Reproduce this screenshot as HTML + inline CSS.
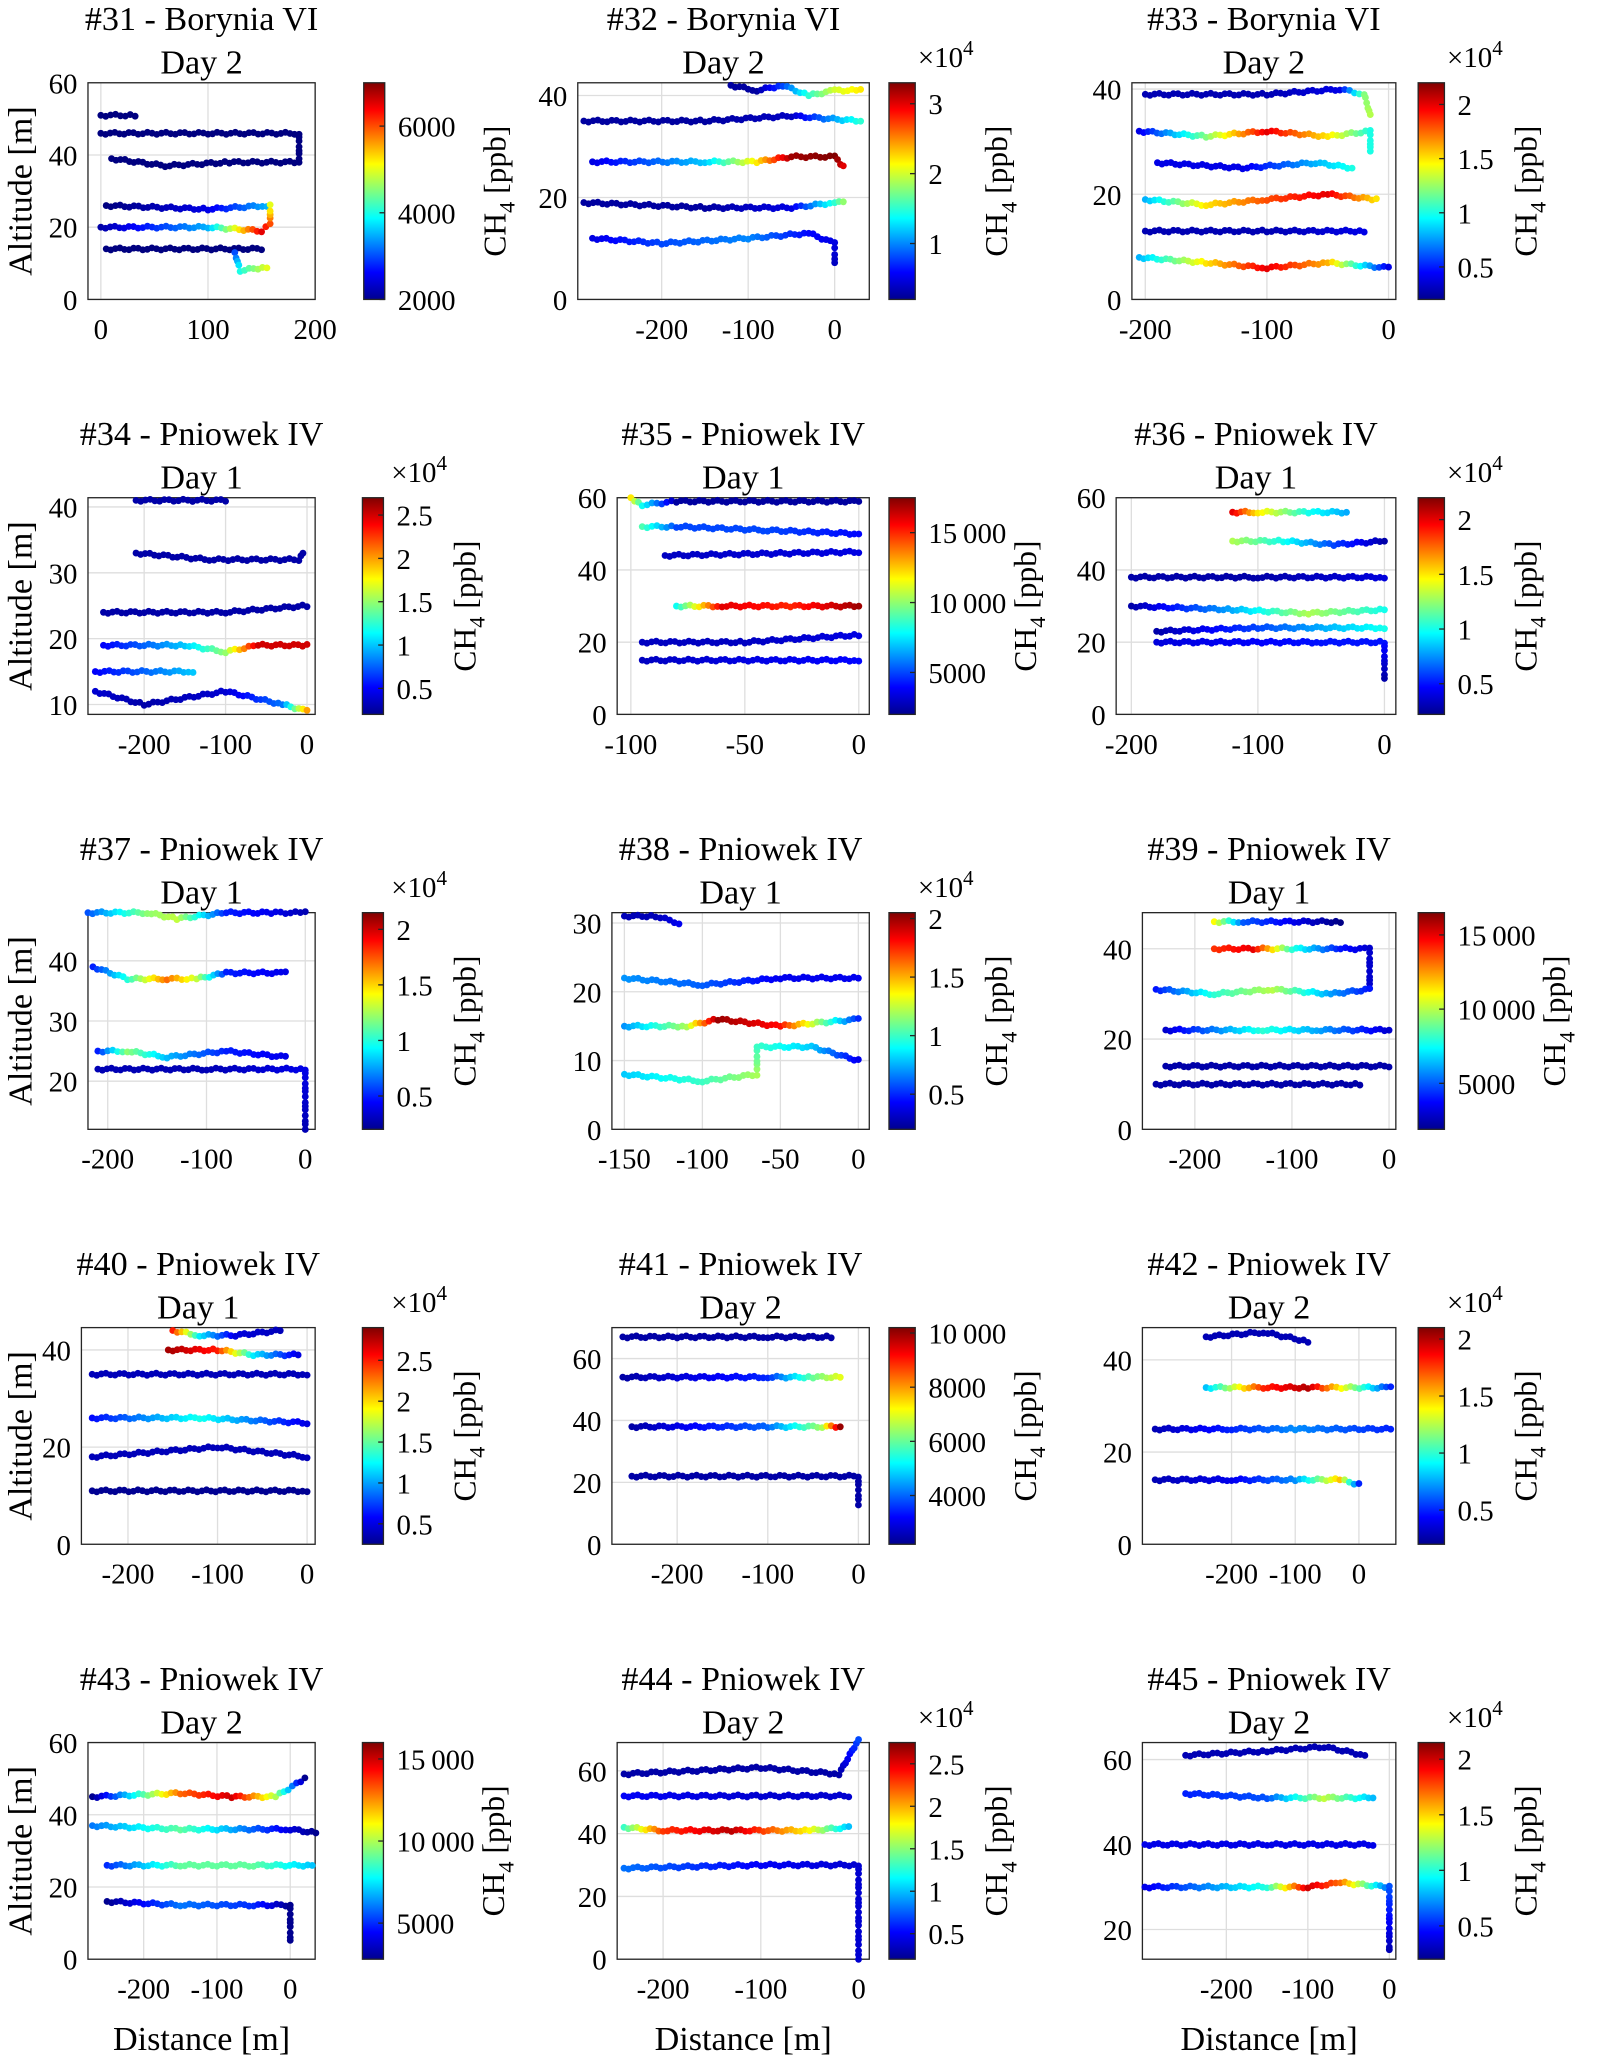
<!DOCTYPE html>
<html><head><meta charset="utf-8"><style>
html,body{margin:0;padding:0;background:#fff;}
svg{display:block;font-family:"Liberation Serif",serif;}
</style></head><body>
<svg id="fig" width="1602" height="2063" viewBox="0 0 1220 1571" xmlns="http://www.w3.org/2000/svg">
<defs>
<linearGradient id="jet" x1="0" y1="1" x2="0" y2="0">
<stop offset="0" stop-color="#00008f"/><stop offset="0.125" stop-color="#0000ff"/><stop offset="0.375" stop-color="#00ffff"/><stop offset="0.625" stop-color="#ffff00"/><stop offset="0.875" stop-color="#ff0000"/><stop offset="1" stop-color="#800000"/>
</linearGradient>
</defs>
</svg>
<script>
// ---- data: per-panel tracks [distance m, altitude m, CH4 value] ----
const titles = ["#31 - Borynia VI","#32 - Borynia VI","#33 - Borynia VI","#34 - Pniowek IV","#35 - Pniowek IV","#36 - Pniowek IV","#37 - Pniowek IV","#38 - Pniowek IV","#39 - Pniowek IV","#40 - Pniowek IV","#41 - Pniowek IV","#42 - Pniowek IV","#43 - Pniowek IV","#44 - Pniowek IV","#45 - Pniowek IV"];
const days = ["Day 2","Day 2","Day 2","Day 1","Day 1","Day 1","Day 1","Day 1","Day 1","Day 1","Day 2","Day 2","Day 2","Day 2","Day 2"];
const xTicks = [[0,100,200],[-200,-100,0],[-200,-100,0],[-200,-100,0],[-100,-50,0],[-200,-100,0],[-200,-100,0],[-150,-100,-50,0],[-200,-100,0],[-200,-100,0],[-200,-100,0],[-200,-100,0],[-200,-100,0],[-200,-100,0],[-200,-100,0]];
const yTicks = [[0,20,40,60],[0,20,40],[0,20,40],[10,20,30,40],[0,20,40,60],[0,20,40,60],[20,30,40],[0,10,20,30],[0,20,40],[0,20,40],[0,20,40,60],[0,20,40],[0,20,40,60],[0,20,40,60],[20,40,60]];
const xLims = [[-12,200],[-297,40],[-211,6],[-269,10],[-106,4.6],[-212,9],[-220,10],[-158,7],[-254,7],[-252,9],[-272,12],[-340,58],[-276,34],[-247,11],[-303,8]];
const yLims = [[0,60],[0,42.5],[0,41.2],[8.5,41.4],[0,60],[0,60],[12,48],[0,31.5],[0,48],[0,44.6],[0,70],[0,47],[0,60],[0,69],[13,64]];
const cLims = [[2000,7000],[0.2,3.3],[0.2,2.2],[0.2,2.7],[2000,17500],[0.22,2.2],[0.2,2.15],[0.2,2.05],[1900,16500],[0.25,2.9],[2200,10200],[0.2,2.1],[2800,16000],[0.2,2.75],[0.2,2.15]];
const cTicks = [[2000,4000,6000],[1,2,3],[0.5,1,1.5,2],[0.5,1,1.5,2,2.5],[5000,10000,15000],[0.5,1,1.5,2],[0.5,1,1.5,2],[0.5,1,1.5,2],[5000,10000,15000],[0.5,1,1.5,2,2.5],[4000,6000,8000,10000],[0.5,1,1.5,2],[5000,10000,15000],[0.5,1,1.5,2,2.5],[0.5,1,1.5,2]];
const cScaled = [false,true,true,true,false,true,true,true,false,true,false,true,false,true,true];
const tracks = [
[[[0,51,2000],[32,51,2000]],[[0,46,2000],[100,46,2000],[185,46,2000],[185,39,2000]],[[10,39,2000],[60,37,2000],[120,38,2000],[185,38,2000]],[[5,26,2000],[100,25,2500],[155,26,3500]],[[0,20,2200],[100,20,3500],[150,19,6500],[158,21,6000],[158,26,5000]],[[5,14,2000],[150,14,2000]],[[125,13,3000],[130,8,4000],[155,9,5000]]],
[[[-120,42,0.3],[-90,41,0.3],[-60,42,0.8],[-30,40,1.5],[0,41,2.0],[30,41,2.2]],[[-290,35,0.3],[-150,35,0.3],[-50,36,0.4],[30,35,1.5]],[[-280,27,0.5],[-150,27,1.2],[-90,27,2.2],[-50,28,3.2],[0,28,3.3],[10,26,3.0]],[[-290,19,0.3],[-150,18,0.3],[-50,18,0.5],[0,19,1.5],[10,19,1.8]],[[-280,12,0.5],[-200,11,0.8],[-100,12,1.0],[-30,13,0.6],[0,11,0.5],[0,7,0.4]]],
[[[-200,39,0.3],[-100,39,0.3],[-40,40,0.4],[-20,39,1.2],[-15,35,1.3]],[[-205,32,0.4],[-150,31,1.2],[-100,32,2.0],[-50,31,1.5],[-15,32,1.0],[-15,28,1.0]],[[-190,26,0.4],[-120,25,0.4],[-60,26,0.8],[-30,25,1.0]],[[-200,19,0.8],[-150,18,1.5],[-100,19,1.8],[-50,20,2.0],[-10,19,1.5]],[[-200,13,0.3],[-100,13,0.3],[-20,13,0.4]],[[-205,8,0.8],[-150,7,1.5],[-100,6,2.0],[-50,7,1.6],[0,6,0.4]]],
[[[-210,41,0.3],[-100,41,0.3]],[[-210,33,0.3],[-120,32,0.3],[-10,32,0.3],[-5,33,0.3]],[[-250,24,0.3],[-100,24,0.3],[0,25,0.3]],[[-250,19,0.5],[-150,19,1.0],[-100,18,1.5],[-60,19,2.5],[0,19,2.5]],[[-260,15,0.5],[-140,15,1.0]],[[-260,12,0.4],[-200,10,0.3],[-100,12,0.4],[-30,10,0.8],[0,9,2.0]]],
[[[-100,60,12000],[-95,58,8000],[-80,59,2500],[0,59,2500]],[[-95,52,9000],[-80,52,5000],[-40,51,5000],[0,50,4000]],[[-85,44,3000],[0,45,3500]],[[-80,30,8000],[-60,30,16000],[-30,30,15000],[0,30,17000]],[[-95,20,3000],[-50,20,3000],[0,22,3500]],[[-95,15,3000],[0,15,4000]]],
[[[-120,56,2.0],[-100,56,1.5],[-60,56,1.0],[-30,56,0.8]],[[-120,48,1.3],[-80,48,1.0],[-40,47,0.6],[0,48,0.3]],[[-200,38,0.3],[-100,38,0.3],[0,38,0.4]],[[-200,30,0.3],[-120,29,0.8],[-60,28,1.3],[0,29,1.0]],[[-180,23,0.3],[-100,24,0.6],[0,24,1.0]],[[-180,20,0.4],[-50,20,0.5],[0,20,0.5],[0,10,0.3]]],
[[[-220,48,0.6],[-160,48,1.2],[-130,47,1.3],[-80,48,0.5],[-30,48,0.4],[0,48,0.3]],[[-215,39,0.5],[-180,37,1.0],[-140,37,1.7],[-110,37,1.3],[-80,38,0.5],[-20,38,0.4]],[[-210,25,0.5],[-180,25,1.2],[-140,24,0.8],[-80,25,0.5],[-20,24,0.4]],[[-210,22,0.3],[-100,22,0.3],[0,22,0.4],[0,12,0.3]]],
[[[-150,31,0.3],[-130,31,0.3],[-115,30,0.4]],[[-150,22,0.7],[-100,21,0.6],[-50,22,0.4],[0,22,0.4]],[[-150,15,0.7],[-110,15,1.2],[-90,16,2.0],[-50,15,1.8],[0,16,0.5]],[[-150,8,0.8],[-100,7,1.0],[-65,8,1.2],[-65,12,1.0],[-30,12,0.8],[0,10,0.4]]],
[[[-180,46,11000],[-150,46,5000],[-50,46,2000]],[[-180,40,14000],[-140,40,15000],[-100,40,8000],[-50,40,4000],[-20,40,3000],[-20,31,3000]],[[-240,31,4000],[-180,30,8000],[-120,31,10000],[-60,30,6000],[-20,31,4000]],[[-230,22,3000],[-130,22,8000],[-70,22,6000],[0,22,3000]],[[-230,14,2500],[0,14,2500]],[[-240,10,2500],[-30,10,2500]]],
[[[-150,44,2.5],[-120,43,1.2],[-80,43,0.5],[-30,44,0.4]],[[-155,40,2.8],[-100,40,2.5],[-60,39,1.2],[-10,39,0.5]],[[-240,35,0.4],[0,35,0.4]],[[-240,26,0.6],[-120,26,1.3],[0,25,0.5]],[[-240,18,0.4],[-100,20,0.4],[0,18,0.4]],[[-240,11,0.3],[0,11,0.3]]],
[[[-260,67,2500],[-100,67,2500],[-30,67,2500]],[[-260,54,2500],[-100,54,3500],[-50,54,6000],[-20,54,7000]],[[-250,38,2500],[-100,38,4000],[-40,38,6500],[-20,38,10000]],[[-250,22,2500],[0,22,2500],[0,13,2500]]],
[[[-240,45,0.3],[-150,46,0.3],[-80,44,0.3]],[[-240,34,0.8],[-150,34,1.8],[-80,34,2.0],[-20,34,1.3],[50,34,0.5]],[[-320,25,0.3],[-200,25,0.5],[-100,25,0.7],[50,25,0.5]],[[-320,14,0.3],[-200,14,0.4],[-100,14,0.7],[-30,14,1.5],[0,13,0.5]]],
[[[-270,45,3000],[-150,46,13000],[-80,45,15000],[-20,45,10000],[20,50,3000]],[[-270,37,6000],[-150,36,9000],[0,36,4000],[35,35,3000]],[[-250,26,5000],[-150,26,9000],[-50,26,9000],[30,26,7000]],[[-250,16,3000],[-150,15,6000],[-50,15,5000],[0,15,3000],[0,5,3000]]],
[[[-240,59,0.3],[-100,61,0.3],[-20,59,0.3],[0,70,0.7]],[[-240,52,0.5],[-100,52,0.4],[-10,52,0.4]],[[-240,42,1.3],[-200,41,2.3],[-130,41,2.6],[-50,41,1.8],[-10,42,1.0]],[[-240,29,0.8],[-100,30,0.5],[0,30,0.4],[0,0,0.4]]],
[[[-250,61,0.3],[-150,62,0.3],[-80,63,0.3],[-30,61,0.3]],[[-250,52,0.5],[-150,51,0.6],[-80,51,1.3],[-20,51,0.8]],[[-300,40,0.4],[-150,40,0.4],[-20,40,0.4]],[[-300,30,0.4],[-150,30,1.0],[-100,30,2.0],[-60,31,1.7],[0,30,0.6],[0,15,0.3]]]
];
// ---- layout (pixel boxes, not data) ----
const axL = [67,440,862,67,470,850,67,466,870,62,466,870,67,470,870];
const cbL = [277,677,1080,276,677,1080,276,677,1080,276,677,1080,276,677,1080];
const colR = [240,662,1063];
const rowTop = [63,379,695,1011,1327];
const AXH = 165;

const NS="http://www.w3.org/2000/svg";
const svg=document.getElementById('fig');
function mk(tag,attrs,parent){const e=document.createElementNS(NS,tag);for(const k in attrs)e.setAttribute(k,attrs[k]);(parent||svg).appendChild(e);return e;}
function jet(t){t=Math.max(0,Math.min(1,t));
 const r=Math.max(0,Math.min(1,1.5-Math.abs(4*t-3))),g=Math.max(0,Math.min(1,1.5-Math.abs(4*t-2))),b=Math.max(0,Math.min(1,1.5-Math.abs(4*t-1)));
 return `rgb(${Math.round(r*255)},${Math.round(g*255)},${Math.round(b*255)})`;}
function fmt(v){if(v>=10000){const s=String(v);return s.slice(0,s.length-3)+'\u2009'+s.slice(-3);}return String(v);}

for(let p=0;p<15;p++){
 const col=p%3,row=Math.floor(p/3);
 const L=axL[p],R=colR[col],T=rowTop[row],B=T+AXH;
 const [x0,x1]=xLims[p],[y0,y1]=yLims[p],[c0,c1]=cLims[p];
 const sx=v=>L+(v-x0)/(x1-x0)*(R-L);
 const sy=v=>B-(v-y0)/(y1-y0)*(B-T);
 const g=mk('g',{});
 
 
 const t1=mk('text',{x:(L+R)/2,y:T-40,'text-anchor':'middle','font-size':26},g);t1.textContent=titles[p];
 
 const t2=mk('text',{x:(L+R)/2,y:T-7,'text-anchor':'middle','font-size':26},g);t2.textContent=days[p];
 
 xTicks[p].forEach(v=>{const X=sx(v);mk('line',{x1:X,x2:X,y1:T,y2:B,stroke:'#dedede','stroke-width':1},g);
  const tx=mk('text',{x:X,y:B+30,'text-anchor':'middle','font-size':22},g);tx.textContent=v;
  });
 yTicks[p].forEach(v=>{const Y=sy(v);mk('line',{x1:L,x2:R,y1:Y,y2:Y,stroke:'#dedede','stroke-width':1},g);
  const ty=mk('text',{x:L-8,y:Y+8,'text-anchor':'end','font-size':22},g);ty.textContent=v;
  });
 const box=mk('rect',{x:L,y:T,width:R-L,height:B-T,fill:'none',stroke:'#262626','stroke-width':1},g);
 
 const tg=mk('g',{},g);
 
 tracks[p].forEach(tr=>{
  for(let i=0;i<tr.length;i++){
   const a=tr[i],b=tr[i+1]||tr[i];
   const ax=sx(a[0]),ay=sy(a[1]),bx=sx(b[0]),by=sy(b[1]);
   const len=Math.hypot(bx-ax,by-ay);const n=Math.max(1,Math.round(len/3.5));
   for(let k=0;k<(i+1<tr.length?n:1);k++){const f=k/n;
    const c=a[2]+(b[2]-a[2])*f;
    const yj=ay+(by-ay)*f+Math.sin(k*1.7+i)*0.8;
    mk('circle',{cx:ax+(bx-ax)*f,cy:yj,r:2.6,fill:jet((c-c0)/(c1-c0))},tg);}
  }
 });
 const cl=cbL[p],cr=cl+(col===0?16:20);
 const cb=mk('rect',{x:cl,y:T,width:cr-cl,height:AXH,fill:'url(#jet)',stroke:'#262626','stroke-width':1},g);
 
 cTicks[p].forEach(v=>{const Y=B-(v-c0)/(c1-c0)*AXH;
  mk('line',{x1:cr-4,x2:cr,y1:Y,y2:Y,stroke:'#262626'},g);
  const ct=mk('text',{x:cr+10,y:Y+8,'font-size':22},g);ct.textContent=fmt(v);
  });
 if(cScaled[p]){const m=mk('text',{x:cl+22,y:T-12,'font-size':22},g);m.innerHTML='×10<tspan dy="-9" font-size="16">4</tspan>';
  }
 const lx=cr+(cScaled[p]?70:92),ly=(T+B)/2;
 const cl2=mk('text',{x:lx,y:ly,'text-anchor':'middle','font-size':24,transform:`rotate(-90 ${lx} ${ly})`},g);
 cl2.innerHTML='CH<tspan dy="7" font-size="17">4</tspan><tspan dy="-7"> [ppb]</tspan>';
 
 if(col===0){const yl=mk('text',{x:24,y:(T+B)/2,'text-anchor':'middle','font-size':26,transform:`rotate(-90 24 ${(T+B)/2})`},g);yl.textContent='Altitude [m]';
  }
 if(row===4){const xl=mk('text',{x:(L+R)/2,y:1561,'text-anchor':'middle','font-size':26},g);xl.textContent='Distance [m]';
  }
}
</script>
</body></html>
